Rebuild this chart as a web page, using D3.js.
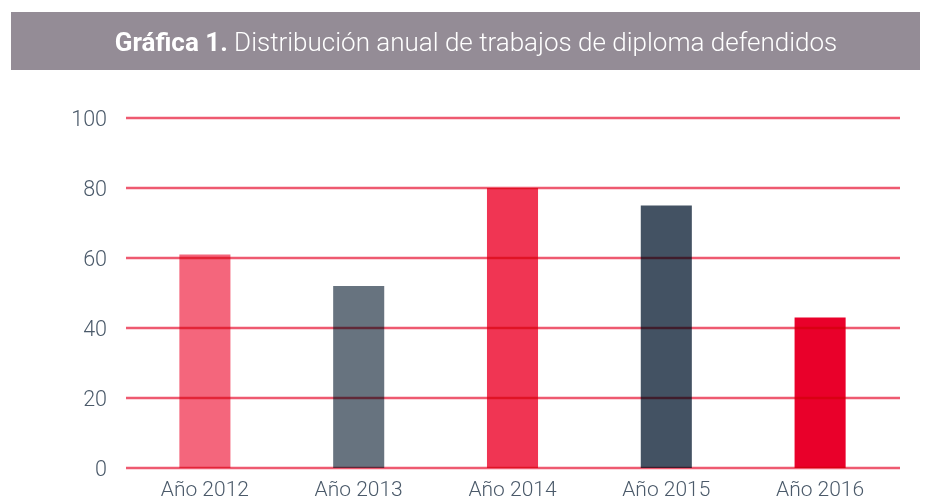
<!DOCTYPE html>
<html>
<head>
<meta charset="utf-8">
<script src="https://cdn.jsdelivr.net/npm/d3@7"></script>
<style>
  body { margin: 0; background: #fff; }
  svg { display: block; }
  .grid line { mix-blend-mode: multiply; }
</style>
</head>
<body>
<svg id="chart"></svg>
<script>
// chart data
const years = ['Año 2012', 'Año 2013', 'Año 2014', 'Año 2015', 'Año 2016'];
const values = [61, 52, 80, 75, 43];
const barColors = ['#f4667c', '#67737f', '#f03553', '#435263', '#e9002a'];
const yTicks = [0, 20, 40, 60, 80, 100];

const width = 931, height = 503;
const svg = d3.select('#chart').attr('width', width).attr('height', height);

// title banner
svg.append('rect')
    .attr('x', 11).attr('y', 12)
    .attr('width', 909).attr('height', 58)
    .attr('fill', '#948c96');

let title = svg.append('text')
    .attr('x', 476).attr('y', 51)
    .attr('text-anchor', 'middle')
    .attr('fill', '#fff')
    .style('font-family', 'Roboto, sans-serif')
    .style('font-size', '26px');
title.append('tspan').style('font-weight', 700).text('Gráfica 1.');
title.append('tspan').style('font-weight', 300).text(' Distribución anual de trabajos de diploma defendidos');

const x = d3.scaleBand()
    .domain(years)
    .range([128, 897])
    .paddingInner(0.668)
    .paddingOuter(0.334);

const y = d3.scaleLinear()
    .domain([0, 100])
    .range([468, 118]);

// bars
svg.append('g').selectAll('rect')
    .data(values)
    .enter()
    .append('rect')
    .attr('x', (d, i) => x(years[i]))
    .attr('y', d => y(d))
    .attr('width', x.bandwidth())
    .attr('height', d => y(0) - y(d))
    .attr('fill', (d, i) => barColors[i]);

// gridlines drawn over the bars
svg.append('g').attr('class', 'grid')
    .selectAll('line')
    .data(yTicks)
    .enter()
    .append('line')
    .attr('x1', 126).attr('x2', 900)
    .attr('y1', d => y(d)).attr('y2', d => y(d))
    .attr('stroke', '#ee5a70')
    .attr('stroke-width', 2.5);

// y labels
svg.append('g').selectAll('text')
    .data(yTicks)
    .enter()
    .append('text')
    .attr('x', 107)
    .attr('y', d => y(d) + 7.5)
    .attr('text-anchor', 'end')
    .attr('fill', '#4b5a6a')
    .style('font-family', 'Roboto, sans-serif')
    .style('font-weight', 300)
    .style('font-size', '21.5px')
    .text(d => d);

// x labels
svg.append('g').selectAll('text')
    .data(years)
    .enter()
    .append('text')
    .attr('x', d => x(d) + x.bandwidth() / 2)
    .attr('y', 496)
    .attr('text-anchor', 'middle')
    .attr('fill', '#4b5a6a')
    .style('font-family', 'Roboto, sans-serif')
    .style('font-weight', 300)
    .style('font-size', '21px')
    .text(d => d);
</script>
</body>
</html>
